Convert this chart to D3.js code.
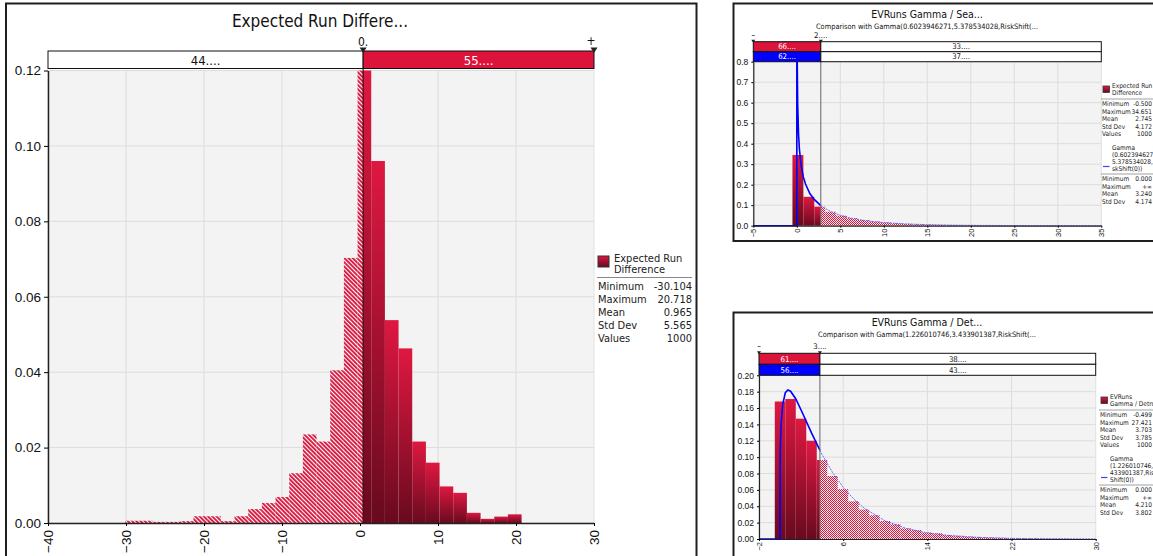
<!DOCTYPE html>
<html>
<head>
<meta charset="utf-8">
<script src="https://cdn.jsdelivr.net/npm/d3@7"></script>
<style>
  body { margin: 0; background: #fff; }
  svg { font-family: "DejaVu Sans Condensed", "DejaVu Sans", sans-serif; }
</style>
</head>
<body>
<svg id="chart" width="1153" height="556"></svg>
<script>

// ---- main histogram : Expected Run Difference ----
var mainEdges = [-30.104, -28.352, -26.599, -24.847, -23.094, -21.342, -19.590, -17.837, -16.085, -14.332,
                 -12.580, -10.828, -9.075, -7.323, -5.570, -3.818, -2.066, -0.313, 1.439, 3.192,
                 4.944, 6.696, 8.449, 10.201, 11.954, 13.706, 15.458, 17.211, 18.963, 20.716];
var mainDensity = [0.0006, 0.0006, 0.0003, 0.0003, 0.0005, 0.0018, 0.0018, 0.0005, 0.0018, 0.0037,
                   0.0053, 0.0069, 0.0132, 0.0235, 0.0216, 0.0405, 0.0703, 0.1200, 0.0960, 0.0538,
                   0.0463, 0.0216, 0.0160, 0.0097, 0.0080, 0.0027, 0.0011, 0.0017, 0.0023];
var mainSplit = 0.4;
var mainSplitLabels = ["0.", "+"];
var mainPct = ["44....", "55...."];
var mainXTicks = [-40, -30, -20, -10, 0, 10, 20, 30];
var mainYTicks = [0, 0.02, 0.04, 0.06, 0.08, 0.10, 0.12];
var mainStats = [["Minimum", "-30.104"], ["Maximum", "20.718"], ["Mean", "0.965"], ["Std Dev", "5.565"], ["Values", "1000"]];

// ---- top right : EVRuns Gamma / Seattle ----
var seaEdges = [-0.500, 0.755, 2.011, 3.266, 4.522, 5.777, 7.032, 8.288, 9.543, 10.799,
                12.054, 13.309, 14.565, 15.820, 17.076, 18.331, 19.586, 20.842, 22.097, 23.353,
                24.608, 25.863, 27.119, 28.374, 29.630, 30.885, 32.140, 33.396, 34.651];
var seaDensity = [0.345, 0.141, 0.093, 0.068, 0.049, 0.037, 0.028, 0.021, 0.016, 0.012,
                  0.009, 0.007, 0.005, 0.004, 0.003, 0.0022, 0.0017, 0.0013, 0.0010, 0.0008,
                  0.0006, 0.0004, 0.0003, 0.0002, 0.0002, 0.0001, 0.0001, 0.0001];
var seaGammaX = [-5, 0, 0.01, 0.03, 0.05, 0.1, 0.2, 0.3, 0.5, 0.75, 1, 1.5, 2, 2.76,
                 3, 4, 5, 6, 7.5, 10, 12.5, 15, 17.5, 20, 25, 30, 35];
var seaGammaY = [0, 0, 1.52, 0.98, 0.796, 0.598, 0.446, 0.373, 0.293, 0.238, 0.203, 0.157, 0.128, 0.098,
                 0.090, 0.067, 0.051, 0.039, 0.027, 0.015, 0.0088, 0.0051, 0.0030, 0.0018, 0.00065, 0.00024, 0.00009];
var seaSplit = 2.76;
var seaSplitLabels = ["\u2013", "2...."];
var seaPctData = ["66....", "33...."];
var seaPctFit = ["62....", "37...."];
var seaXTicks = [-5, 0, 5, 10, 15, 20, 25, 30, 35];
var seaYTicks = [0, 0.1, 0.2, 0.3, 0.4, 0.5, 0.6, 0.7, 0.8];
var seaStats = [["Minimum", "-0.500"], ["Maximum", "34.651"], ["Mean", "2.745"], ["Std Dev", "4.172"], ["Values", "1000"]];
var seaFitStats = [["Minimum", "0.000"], ["Maximum", "+\u221e"], ["Mean", "3.240"], ["Std Dev", "4.174"]];

// ---- bottom right : EVRuns Gamma / Detroit ----
var detEdges = [-0.499, 0.498, 1.495, 2.492, 3.489, 4.487, 5.484, 6.481, 7.478, 8.475,
                9.472, 10.469, 11.466, 12.463, 13.460, 14.458, 15.455, 16.452, 17.449, 18.446,
                19.443, 20.440, 21.437, 22.434, 23.431, 24.429, 25.426, 26.423, 27.420];
var detDensity = [0.168, 0.171, 0.147, 0.120, 0.0965, 0.077, 0.061, 0.046, 0.036, 0.029,
                  0.022, 0.018, 0.013, 0.011, 0.008, 0.007, 0.005, 0.004, 0.003, 0.0025,
                  0.002, 0.0015, 0.001, 0.0008, 0.0006, 0.0004, 0.0003, 0.0003];
var detGammaX = [-2, 0, 0.02, 0.05, 0.1, 0.25, 0.5, 0.75, 1, 1.5, 2, 3, 3.79,
                 4, 5, 6, 7, 8, 10, 12, 14, 16, 18, 20, 22, 25, 30];
var detGammaY = [0, 0, 0.0998, 0.121, 0.1395, 0.1643, 0.1787, 0.182, 0.1806, 0.1711, 0.1576, 0.1293, 0.1084,
                 0.1031, 0.0811, 0.0632, 0.0489, 0.0376, 0.0221, 0.0129, 0.0074, 0.0043, 0.0025, 0.0014, 0.0008, 0.00034, 0.00008];
var detSplit = 3.79;
var detSplitLabels = ["\u2013", "3...."];
var detPctData = ["61....", "38...."];
var detPctFit = ["56....", "43...."];
var detXTicks = [-2, 6, 14, 22, 30];
var detYTicks = [0, 0.02, 0.04, 0.06, 0.08, 0.10, 0.12, 0.14, 0.16, 0.18, 0.20];
var detStats = [["Minimum", "-0.499"], ["Maximum", "27.421"], ["Mean", "3.703"], ["Std Dev", "3.785"], ["Values", "1000"]];
var detFitStats = [["Minimum", "0.000"], ["Maximum", "+\u221e"], ["Mean", "4.210"], ["Std Dev", "3.802"]];

var RED = "#dc143c", BLUE = "#0000ff";

var svg = d3.select("#chart");
var defs = svg.append("defs");

// bar gradient, light at top, dark at bottom
var grad = defs.append("linearGradient").attr("id", "barGrad")
  .attr("x1", 0).attr("y1", 0).attr("x2", 0).attr("y2", 1);
grad.append("stop").attr("offset", "0%").attr("stop-color", "#de1841");
grad.append("stop").attr("offset", "100%").attr("stop-color", "#680a1e");

var stripes = defs.append("pattern").attr("id", "stripes")
  .attr("patternUnits", "userSpaceOnUse").attr("width", 3).attr("height", 3)
  .attr("patternTransform", "rotate(-45)");
stripes.append("rect").attr("width", 3).attr("height", 3).attr("fill", "#fff");
stripes.append("rect").attr("width", 1.9).attr("height", 3).attr("fill", "#d6173e");

var checks = defs.append("pattern").attr("id", "checks")
  .attr("patternUnits", "userSpaceOnUse").attr("width", 2).attr("height", 2);
checks.append("rect").attr("width", 2).attr("height", 2).attr("fill", "#fbe9ed");
checks.append("rect").attr("width", 1).attr("height", 1).attr("fill", "#cf1a3d");
checks.append("rect").attr("x", 1).attr("y", 1).attr("width", 1).attr("height", 1).attr("fill", "#cf1a3d");

function drawHist(g, x, y, edges, dens, split, fillLeft, fillRight) {
  var parts = [];
  for (var i = 0; i < dens.length; i++) {
    var a = edges[i], b = edges[i + 1];
    if (b <= split) parts.push({x0: a, x1: b, v: dens[i], f: fillLeft});
    else if (a >= split) parts.push({x0: a, x1: b, v: dens[i], f: fillRight});
    else {
      parts.push({x0: a, x1: split, v: dens[i], f: fillLeft});
      parts.push({x0: split, x1: b, v: dens[i], f: fillRight});
    }
  }
  g.selectAll(null).data(parts).enter().append("rect")
    .attr("x", function(d) { return x(d.x0); })
    .attr("width", function(d) { return x(d.x1) - x(d.x0); })
    .attr("y", function(d) { return y(d.v); })
    .attr("height", function(d) { return y(0) - y(d.v); })
    .attr("fill", function(d) { return d.f; });
}

function drawGrid(g, x, y, xt, yt) {
  g.selectAll(null).data(yt).enter().append("line")
    .attr("x1", x.range()[0]).attr("x2", x.range()[1])
    .attr("y1", function(d) { return y(d); }).attr("y2", function(d) { return y(d); })
    .style("stroke", "#dcdcdc").style("stroke-width", 1);
  g.selectAll(null).data(xt).enter().append("line")
    .attr("x1", function(d) { return x(d); }).attr("x2", function(d) { return x(d); })
    .attr("y1", y.range()[0]).attr("y2", y.range()[1])
    .style("stroke", "#dcdcdc").style("stroke-width", 1);
}

function downTri(g, cx, cy, s) {
  g.append("path")
    .attr("d", "M" + (cx - s) + "," + (cy - s) + "L" + (cx + s) + "," + (cy - s) + "L" + cx + "," + (cy + s * 0.6) + "Z")
    .style("fill", "#222");
}

function drawStats(g, x0, x1, y0, step, rows, fs) {
  rows.forEach(function(r, i) {
    g.append("text").attr("x", x0).attr("y", y0 + i * step)
      .style("font-size", fs).style("fill", "#222").text(r[0]);
    g.append("text").attr("x", x1).attr("y", y0 + i * step)
      .attr("text-anchor", "end").style("font-size", fs).style("fill", "#222").text(r[1]);
  });
}

// ================= MAIN PANEL =================
(function() {
  var g = svg.append("g");
  g.append("rect").attr("x", 6).attr("y", 3.5).attr("width", 690.5).attr("height", 600)
    .style("fill", "#fff").style("stroke", "#1e1e1e").style("stroke-width", 2);

  var x = d3.scaleLinear().domain([-40, 30]).range([48, 594]);
  var y = d3.scaleLinear().domain([0, 0.12]).range([523, 70.5]);

  g.append("rect").attr("x", 48).attr("y", 70.5).attr("width", 546).attr("height", 452.5)
    .style("fill", "#f3f3f3").style("stroke", "#e2e2e2");
  drawGrid(g, x, y, mainXTicks.slice(1, -1), mainYTicks.slice(1));

  drawHist(g, x, y, mainEdges, mainDensity, mainSplit, "url(#stripes)", "url(#barGrad)");

  g.append("line").attr("x1", x(mainSplit)).attr("x2", x(mainSplit))
    .attr("y1", 51).attr("y2", 523).style("stroke", "#3a0610").style("stroke-width", 1.2);

  var ya = g.append("g").attr("transform", "translate(48,0)")
    .call(d3.axisLeft(y).tickValues(mainYTicks).tickFormat(d3.format(".2f")).tickSize(4).tickSizeOuter(0));
  ya.selectAll("text").style("font-size", "13.5px").style("font-family", "inherit").style("fill", "#111");
  ya.select(".domain").style("stroke", "#222").style("stroke-width", 1.5);

  var xa = g.append("g").attr("transform", "translate(0,523)")
    .call(d3.axisBottom(x).tickValues(mainXTicks).tickFormat(d3.format("d")).tickSize(3).tickSizeOuter(0));
  xa.select(".domain").style("stroke", "#222").style("stroke-width", 1.5);
  xa.selectAll("text")
    .attr("transform", "rotate(-90)").attr("text-anchor", "end")
    .attr("x", -7).attr("y", 0).attr("dy", "0.35em")
    .style("font-size", "13.5px").style("font-family", "inherit").style("fill", "#111");

  // selection bar on top
  g.append("rect").attr("x", 48).attr("y", 51).attr("width", x(mainSplit) - 48).attr("height", 17.5)
    .style("fill", "#fff").style("stroke", "#111");
  g.append("rect").attr("x", x(mainSplit)).attr("y", 51).attr("width", 594 - x(mainSplit)).attr("height", 17.5)
    .style("fill", RED).style("stroke", "#111");
  g.append("text").attr("x", (48 + x(mainSplit)) / 2).attr("y", 64.5).attr("text-anchor", "middle")
    .style("font-size", "13px").style("fill", "#111").text(mainPct[0]);
  g.append("text").attr("x", (x(mainSplit) + 594) / 2).attr("y", 64.5).attr("text-anchor", "middle")
    .style("font-size", "13px").style("fill", "#fff").text(mainPct[1]);
  downTri(g, x(mainSplit), 51, 3.5);
  downTri(g, 594, 51, 3.5);
  g.append("text").attr("x", x(mainSplit)).attr("y", 46).attr("text-anchor", "middle")
    .style("font-size", "12px").style("fill", "#111").text(mainSplitLabels[0]);
  g.append("text").attr("x", 591).attr("y", 45).attr("text-anchor", "middle")
    .style("font-size", "12px").style("fill", "#111").text(mainSplitLabels[1]);

  g.append("text").attr("x", 320).attr("y", 27).attr("text-anchor", "middle")
    .style("font-size", "17px").style("fill", "#111").text("Expected Run Differe...");

  // legend
  g.append("rect").attr("x", 598).attr("y", 256).attr("width", 11).attr("height", 11)
    .style("fill", "url(#barGrad)").style("stroke", "#333");
  g.append("text").attr("x", 614).attr("y", 262).style("font-size", "11px").style("fill", "#222").text("Expected Run");
  g.append("text").attr("x", 614).attr("y", 273).style("font-size", "11px").style("fill", "#222").text("Difference");
  g.append("line").attr("x1", 597).attr("x2", 692).attr("y1", 277.5).attr("y2", 277.5).style("stroke", "#888");
  drawStats(g, 598, 692, 290, 13, mainStats, "11px");
})();

// ================= FIT PANELS =================
function drawFitPanel(c) {
  var g = svg.append("g");
  g.append("rect").attr("x", c.fx).attr("y", c.fy).attr("width", 460).attr("height", c.fh)
    .style("fill", "#fff").style("stroke", "#1e1e1e").style("stroke-width", 2);

  var x = d3.scaleLinear().domain(c.xDomain).range([c.left, c.right]);
  var y = d3.scaleLinear().domain(c.yDomain).range([c.bottom, c.top]);

  g.append("rect").attr("x", c.left).attr("y", c.top).attr("width", c.right - c.left).attr("height", c.bottom - c.top)
    .style("fill", "#f3f3f3").style("stroke", "#e2e2e2");
  drawGrid(g, x, y, c.xTicks.slice(1, -1), c.yTicks.slice(1));

  drawHist(g, x, y, c.edges, c.density, c.split, "url(#barGrad)", "url(#checks)");

  // fitted gamma curve, clipped to plot
  var clipId = "clip" + c.id;
  defs.append("clipPath").attr("id", clipId).append("rect")
    .attr("x", c.left).attr("y", c.top).attr("width", c.right - c.left).attr("height", c.bottom - c.top + 1);
  var pts = d3.zip(c.gx, c.gy);
  var line = d3.line().x(function(d) { return x(d[0]); }).y(function(d) { return y(d[1]); });
  g.append("path").datum(pts.filter(function(p) { return p[0] >= c.split; }))
    .attr("d", line).attr("clip-path", "url(#" + clipId + ")")
    .style("fill", "none").style("stroke", "#6a6aff").style("stroke-width", 1).style("stroke-dasharray", "2,1");
  g.append("path").datum(pts.filter(function(p) { return p[0] <= c.split; }))
    .attr("d", line).attr("clip-path", "url(#" + clipId + ")")
    .style("fill", "none").style("stroke", BLUE).style("stroke-width", 1.6);

  g.append("line").attr("x1", x(c.split)).attr("x2", x(c.split))
    .attr("y1", c.barTop).attr("y2", c.bottom).style("stroke", "#666").style("stroke-width", 1);

  var ya = g.append("g").attr("transform", "translate(" + c.left + ",0)")
    .call(d3.axisLeft(y).tickValues(c.yTicks).tickFormat(d3.format(c.yFmt)).tickSize(2).tickSizeOuter(0));
  ya.selectAll("text").style("font-size", "8.5px").style("font-family", "inherit").style("fill", "#111");
  ya.select(".domain").style("stroke", "#222").style("stroke-width", 1.2);

  var xa = g.append("g").attr("transform", "translate(0," + c.bottom + ")")
    .call(d3.axisBottom(x).tickValues(c.xTicks).tickFormat(d3.format("d")).tickSize(2).tickSizeOuter(0));
  xa.select(".domain").style("stroke", "#222").style("stroke-width", 1.2);
  xa.selectAll("text")
    .attr("transform", "rotate(-90)").attr("text-anchor", "end")
    .attr("x", -3).attr("y", 0).attr("dy", "0.35em")
    .style("font-size", "7.5px").style("font-family", "inherit").style("fill", "#111");

  // two selection rows : data (red) and fit (blue)
  var rows = [[RED, c.pctData], [BLUE, c.pctFit]];
  rows.forEach(function(r, i) {
    var ry = c.barTop + i * c.barH;
    g.append("rect").attr("x", c.left).attr("y", ry).attr("width", x(c.split) - c.left).attr("height", c.barH)
      .style("fill", r[0]).style("stroke", "#111");
    g.append("rect").attr("x", x(c.split)).attr("y", ry).attr("width", c.right - x(c.split)).attr("height", c.barH)
      .style("fill", "#fff").style("stroke", "#111");
    g.append("text").attr("x", (c.left + x(c.split)) / 2).attr("y", ry + c.barH / 2 + 2.7).attr("text-anchor", "middle")
      .style("font-size", "7.8px").style("fill", "#fff").text(r[1][0]);
    g.append("text").attr("x", (x(c.split) + c.right) / 2).attr("y", ry + c.barH / 2 + 2.7).attr("text-anchor", "middle")
      .style("font-size", "7.8px").style("fill", "#111").text(r[1][1]);
  });
  downTri(g, c.left, c.barTop, 2);
  downTri(g, x(c.split), c.barTop, 2);
  g.append("text").attr("x", c.left).attr("y", c.barTop - 4).attr("text-anchor", "middle")
    .style("font-size", "8px").style("fill", "#111").text(c.splitLabels[0]);
  g.append("text").attr("x", x(c.split)).attr("y", c.barTop - 4).attr("text-anchor", "middle")
    .style("font-size", "7.8px").style("fill", "#111").text(c.splitLabels[1]);

  g.append("text").attr("x", 927).attr("y", c.titleY).attr("text-anchor", "middle")
    .style("font-size", "10.5px").style("fill", "#111").text(c.title);
  g.append("text").attr("x", 927).attr("y", c.titleY + 11).attr("text-anchor", "middle")
    .style("font-size", "7.4px").style("fill", "#111").text(c.subtitle);

  // legend
  var lx = c.legX, ly = c.legY;
  g.append("rect").attr("x", lx + 1).attr("y", ly).attr("width", 6.5).attr("height", 6.5)
    .style("fill", "url(#barGrad)").style("stroke", "#333").style("stroke-width", 0.8);
  g.append("text").attr("x", lx + 10).attr("y", ly + 2).style("font-size", "6.5px").style("fill", "#222").text(c.legName[0]);
  g.append("text").attr("x", lx + 10).attr("y", ly + 9).style("font-size", "6.5px").style("fill", "#222").text(c.legName[1]);
  g.append("line").attr("x1", lx - 1).attr("x2", lx + 70).attr("y1", ly + 13).attr("y2", ly + 13).style("stroke", "#888").style("stroke-width", 0.8);
  drawStats(g, lx, 1152, ly + 20, 7.6, c.stats, "6.5px");
  var gy0 = ly + 64;
  c.fitName.forEach(function(t, i) {
    g.append("text").attr("x", lx + 10).attr("y", gy0 + i * 7).style("font-size", "6.5px").style("fill", "#222").text(t);
  });
  g.append("line").attr("x1", lx + 1).attr("x2", lx + 7.5).attr("y1", gy0 + 16.5).attr("y2", gy0 + 16.5)
    .style("stroke", "#4444ff").style("stroke-width", 1.2);
  g.append("line").attr("x1", lx - 1).attr("x2", lx + 70).attr("y1", gy0 + 24).attr("y2", gy0 + 24).style("stroke", "#888").style("stroke-width", 0.8);
  drawStats(g, lx, 1152, gy0 + 31, 7.6, c.fitStats, "6.5px");
}

drawFitPanel({
  id: "sea", fx: 733.5, fy: 3.5, fh: 237.5,
  left: 753.3, right: 1101.3, top: 61.7, bottom: 225.7,
  xDomain: [-5, 35], yDomain: [0, 0.8], xTicks: seaXTicks, yTicks: seaYTicks, yFmt: ".1f",
  edges: seaEdges, density: seaDensity, gx: seaGammaX, gy: seaGammaY, split: seaSplit,
  splitLabels: seaSplitLabels, pctData: seaPctData, pctFit: seaPctFit,
  barTop: 41.7, barH: 10,
  titleY: 18, title: "EVRuns Gamma / Sea...",
  subtitle: "Comparison with Gamma(0.6023946271,5.378534028,RiskShift(...",
  legX: 1102, legY: 86, legName: ["Expected Run", "Difference"],
  stats: seaStats, fitName: ["Gamma", "(0.6023946271,", "5.378534028,Ri", "skShift(0))"], fitStats: seaFitStats
});

drawFitPanel({
  id: "det", fx: 733.5, fy: 312.5, fh: 300,
  left: 759, right: 1095.7, top: 375.3, bottom: 539,
  xDomain: [-2, 30], yDomain: [0, 0.2], xTicks: detXTicks, yTicks: detYTicks, yFmt: ".2f",
  edges: detEdges, density: detDensity, gx: detGammaX, gy: detGammaY, split: detSplit,
  splitLabels: detSplitLabels, pctData: detPctData, pctFit: detPctFit,
  barTop: 353.3, barH: 11,
  titleY: 326, title: "EVRuns Gamma / Det...",
  subtitle: "Comparison with Gamma(1.226010746,3.433901387,RiskShift(...",
  legX: 1100, legY: 397, legName: ["EVRuns", "Gamma / Detroit"],
  stats: detStats, fitName: ["Gamma", "(1.226010746,3.", "433901387,Risk", "Shift(0))"], fitStats: detFitStats
});

</script>
</body>
</html>
